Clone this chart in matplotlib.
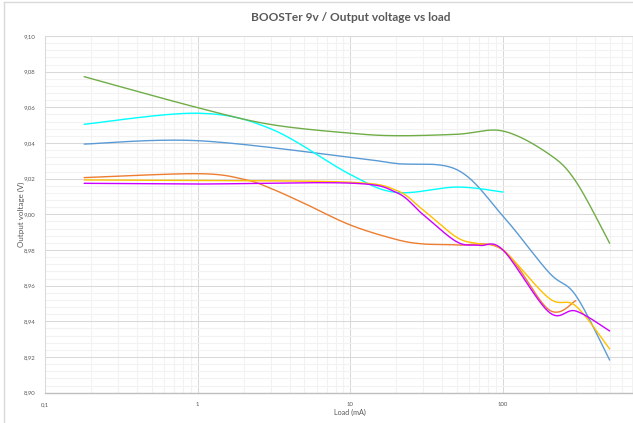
import numpy as np
import matplotlib
matplotlib.use("Agg")
from matplotlib import pyplot as plt
from matplotlib.ticker import FixedLocator, FuncFormatter, NullFormatter
from matplotlib.lines import Line2D

# measured points: load (mA) -> output voltage (V)
load_blue = [0.18, 1, 10, 20, 50, 100, 200, 300, 500]
volt_blue = [9.0394, 9.0413, 9.0320, 9.0285, 9.0250, 8.9990, 8.9674, 8.9545, 8.9183]

load_orange = [0.18, 1, 2, 3, 5, 10, 20, 30, 50, 100, 200, 300]
volt_orange = [9.0206, 9.0228, 9.0197, 9.0146, 9.0061, 8.9940, 8.9859, 8.9834, 8.9828, 8.9800, 8.9465, 8.9516]

load_cyan = [0.18, 1, 3, 10, 20, 50, 100]
volt_cyan = [9.0505, 9.0567, 9.0480, 9.0223, 9.0123, 9.0153, 9.0125]

load_yellow = [0.18, 1, 10, 20, 30, 50, 70, 100, 200, 300, 500]
volt_yellow = [9.0193, 9.0190, 9.0180, 9.0135, 9.0024, 8.9870, 8.9834, 8.9800, 8.9530, 8.9486, 8.9245]

load_purple = [0.18, 1, 10, 20, 30, 50, 70, 100, 200, 300, 500]
volt_purple = [9.0174, 9.0170, 9.0175, 9.0123, 8.9998, 8.9845, 8.9826, 8.9800, 8.9452, 8.9458, 8.9346]

load_green = [0.18, 1, 3, 10, 20, 50, 100, 200, 300, 500]
volt_green = [9.0772, 9.0598, 9.0504, 9.0455, 9.0441, 9.0449, 9.0467, 9.0338, 9.0185, 8.9838]

x_ticks = [0.1, 1, 10, 100]
y_ticks = np.round(np.arange(8.90, 9.101, 0.02), 2)

TXT = "#595959"
plt.rcParams['font.family'] = ['Lato', 'DejaVu Sans']

W, H = 633, 423
fig = plt.figure(figsize=(W / 100, H / 100), dpi=100)
fig.patch.set_facecolor("white")

# chart frame (left / top edges)
fig.add_artist(Line2D([4.3 / W, 4.3 / W], [0, 1 - 2 / H], transform=fig.transFigure, color="#D9D9D9", lw=1.0))
fig.add_artist(Line2D([4.3 / W, 1], [1 - 2 / H, 1 - 2 / H], transform=fig.transFigure, color="#D9D9D9", lw=1.0))

# plot area runs out to 1000 mA, past the right edge of the canvas
left, right, top, bottom = 45.2, 655.6, 36.0, 392.7
ax = fig.add_axes([left / W, 1 - bottom / H, (right - left) / W, (bottom - top) / H])
ax.set_xscale("log")
ax.set_xlim(0.1, 1000)
ax.set_ylim(8.90, 9.10)

ax.xaxis.set_major_locator(FixedLocator(x_ticks))
ax.xaxis.set_minor_locator(FixedLocator([m * d for d in [0.1, 1, 10, 100] for m in range(2, 10)]))
ax.xaxis.set_major_formatter(FuncFormatter(lambda v, p: ("%g" % v).replace(".", ",")))
ax.xaxis.set_minor_formatter(NullFormatter())
ax.yaxis.set_major_locator(FixedLocator(y_ticks))
ax.yaxis.set_minor_locator(FixedLocator(np.arange(8.90, 9.10, 0.004)))
ax.yaxis.set_major_formatter(FuncFormatter(lambda v, p: ("%.2f" % v).replace(".", ",")))

ax.grid(which="minor", color="#F2F2F2", lw=0.75)
ax.grid(which="major", color="#D9D9D9", lw=0.75)
ax.set_axisbelow(True)
ax.tick_params(which="both", length=0, labelsize=4.3, labelcolor=TXT)
ax.tick_params(axis="y", pad=7)
ax.tick_params(axis="x", pad=7)
for s in ["top", "right"]:
    ax.spines[s].set_visible(False)
ax.spines["left"].set_color("#D9D9D9")
ax.spines["left"].set_linewidth(0.75)
ax.spines["bottom"].set_color("#BFBFBF")
ax.spines["bottom"].set_linewidth(1.0)


def smooth_line(xs, ys, color, steps=30):
    # Bezier smoothing in screen space, the way spreadsheet "smoothed lines" do
    P = ax.transData.transform(np.column_stack([xs, ys]))
    P = np.vstack([P[0], P, P[-1]])
    t = np.linspace(0, 1, steps)[:, None]
    parts = []
    for i in range(1, len(P) - 2):
        p0, p1, p2, p3 = P[i - 1], P[i], P[i + 1], P[i + 2]
        c1 = p1 + (p2 - p0) / 6
        c2 = p2 - (p3 - p1) / 6
        seg = (1 - t) ** 3 * p1 + 3 * (1 - t) ** 2 * t * c1 + 3 * (1 - t) * t ** 2 * c2 + t ** 3 * p2
        parts.append(seg if i == 1 else seg[1:])
    curve = ax.transData.inverted().transform(np.vstack(parts))
    ax.plot(curve[:, 0], curve[:, 1], color=color, lw=1.0, solid_capstyle="round")


smooth_line(load_blue, volt_blue, "#5B9BD5")
smooth_line(load_orange, volt_orange, "#ED7D31")
smooth_line(load_cyan, volt_cyan, "#00FFFF")
smooth_line(load_yellow, volt_yellow, "#FFC000")
smooth_line(load_purple, volt_purple, "#CC00FF")
smooth_line(load_green, volt_green, "#70AD47")

ax.set_title("BOOSTer 9v / Output voltage vs load", fontsize=8.6, fontweight="bold",
             color=TXT, pad=11)
ax.set_xlabel("Load (mA)", fontsize=5.2, color=TXT, labelpad=1)
ax.set_ylabel("Output voltage (V)", fontsize=5.8, color=TXT, labelpad=-1)

fig.savefig("out.png", dpi=100)
